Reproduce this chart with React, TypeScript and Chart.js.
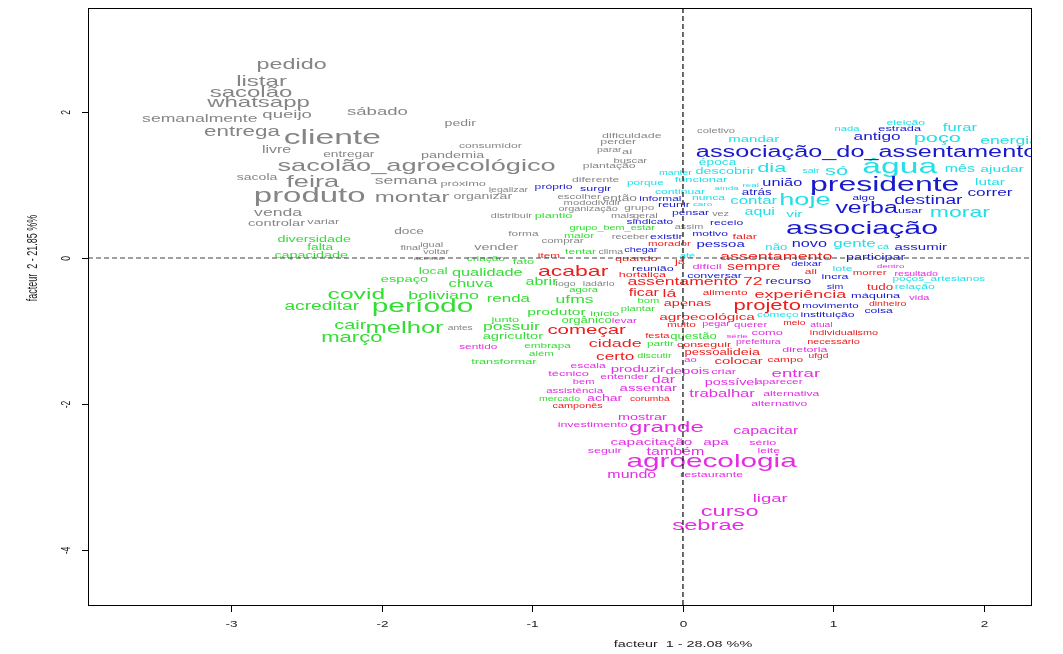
import React, { useEffect, useRef } from "react";
import { Chart, registerables } from "chart.js";

Chart.register(...registerables);

// [term, facteur 1, facteur 2, chi2]
type Term = [string, number, number, number];

const grayTerms: Term[] = [
  ["pedido", -2.6, 2.64, 53], ["listar", -2.8, 2.42, 55], ["sacolão", -2.87, 2.26, 55],
  ["whatsapp", -2.82, 2.12, 55], ["semanalmente", -3.21, 1.9, 35], ["queijo", -2.63, 1.96, 38],
  ["sábado", -2.03, 2.0, 38], ["entrega", -2.93, 1.73, 50], ["cliente", -2.33, 1.64, 85],
  ["livre", -2.7, 1.47, 30], ["entregar", -2.22, 1.42, 23], ["sacolão_agroecológico", -1.77, 1.26, 65],
  ["sacola", -2.83, 1.1, 24], ["feira", -2.46, 1.04, 65], ["produto", -2.48, 0.84, 83],
  ["venda", -2.69, 0.62, 35], ["controlar", -2.7, 0.48, 26], ["variar", -2.39, 0.49, 20],
  ["pedir", -1.48, 1.84, 24], ["consumidor", -1.28, 1.53, 18], ["pandemia", -1.53, 1.41, 25],
  ["semana", -1.84, 1.05, 35], ["próximo", -1.46, 1.01, 20], ["montar", -1.8, 0.82, 55],
  ["organizar", -1.33, 0.84, 24], ["legalizar", -1.16, 0.93, 13], ["distribuir", -1.14, 0.58, 14],
  ["doce", -1.82, 0.36, 23], ["forma", -1.06, 0.33, 17], ["comprar", -0.8, 0.23, 16],
  ["receber", -0.35, 0.29, 14], ["coletivo", 0.22, 1.74, 15], ["dificuldade", -0.34, 1.68, 19],
  ["perder", -0.43, 1.59, 19], ["parar", -0.49, 1.48, 13], ["aí", -0.37, 1.45, 20],
  ["buscar", -0.35, 1.33, 15], ["plantação", -0.49, 1.26, 18], ["diferente", -0.58, 1.07, 18],
  ["escolher", -0.69, 0.84, 16], ["então", -0.42, 0.82, 23], ["modo", -0.7, 0.75, 15],
  ["dividir", -0.51, 0.75, 15], ["organização", -0.63, 0.67, 14], ["grupo", -0.29, 0.68, 17],
  ["mais", -0.4, 0.58, 15], ["geral", -0.25, 0.58, 15], ["vez", 0.25, 0.6, 14],
  ["assim", 0.04, 0.42, 14], ["clima", -0.48, 0.08, 13], ["vender", -1.24, 0.15, 25],
  ["igual", -1.67, 0.18, 14], ["final", -1.81, 0.14, 14], ["voltar", -1.64, 0.08, 13],
  ["acesso", -1.69, 0.0, 10], ["antes", -1.48, -0.96, 12], ["logo", -0.78, -0.36, 13],
  ["ladário", -0.56, -0.36, 13],
];

const greenTerms: Term[] = [
  ["plantio", -0.86, 0.58, 20], ["grupo_bem_estar", -0.47, 0.41, 14], ["maior", -0.69, 0.3, 18],
  ["tentar", -0.68, 0.08, 18], ["criação", -1.31, -0.01, 17], ["fato", -1.06, -0.05, 20],
  ["questão", 0.07, -1.08, 21], ["partir", -0.15, -1.18, 17], ["possuir", -1.14, -0.95, 35],
  ["orgânico", -0.64, -0.86, 21], ["agricultor", -1.13, -1.08, 26], ["embrapa", -0.9, -1.21, 17],
  ["além", -0.94, -1.32, 16], ["transformar", -1.19, -1.42, 20], ["discutir", -0.19, -1.34, 14],
  ["mercado", -0.82, -1.93, 13], ["diversidade", -2.45, 0.25, 25], ["falta", -2.41, 0.14, 23],
  ["capacidade", -2.47, 0.03, 25], ["local", -1.66, -0.19, 24], ["qualidade", -1.3, -0.21, 31],
  ["espaço", -1.85, -0.29, 26], ["chuva", -1.41, -0.36, 32], ["covid", -2.17, -0.51, 57],
  ["boliviano", -1.59, -0.52, 36], ["renda", -1.16, -0.56, 33], ["acreditar", -2.4, -0.66, 40],
  ["período", -1.73, -0.67, 74], ["cair", -2.21, -0.92, 42], ["melhor", -1.85, -0.96, 60],
  ["março", -2.2, -1.1, 49], ["junto", -1.18, -0.84, 20], ["abrir", -0.94, -0.33, 30],
  ["agora", -0.66, -0.44, 15], ["ufms", -0.72, -0.58, 35], ["bom", -0.23, -0.59, 15],
  ["plantar", -0.3, -0.7, 15], ["produtor", -0.84, -0.74, 29], ["início", -0.52, -0.77, 19],
];

const redTerms: Term[] = [
  ["falar", 0.41, 0.29, 19], ["morador", -0.09, 0.19, 16], ["item", -0.89, 0.03, 17],
  ["quando", -0.31, -0.01, 20], ["já", -0.02, -0.05, 20], ["assentamento", 0.62, 0.01, 36],
  ["morrer", 1.24, -0.21, 16], ["tudo", 1.31, -0.4, 22], ["dinheiro", 1.36, -0.63, 13],
  ["sempre", 0.47, -0.12, 30], ["ali", 0.85, -0.19, 18], ["assentamento 72", 0.08, -0.33, 35],
  ["alimento", 0.28, -0.48, 17], ["experiência", 0.78, -0.51, 36], ["apenas", 0.03, -0.63, 25],
  ["projeto", 0.56, -0.66, 49], ["agroecológica", 0.16, -0.81, 28], ["muito", -0.01, -0.92, 17],
  ["meio", 0.74, -0.9, 12], ["individualismo", 1.07, -1.03, 14], ["necessário", 1.0, -1.15, 14],
  ["conseguir", 0.14, -1.19, 19], ["pessoal", 0.16, -1.3, 21], ["ideia", 0.41, -1.3, 25],
  ["ufgd", 0.9, -1.34, 12], ["colocar", 0.37, -1.42, 27], ["campo", 0.68, -1.4, 17],
  ["começar", -0.64, -0.99, 44], ["festa", -0.17, -1.07, 15], ["cidade", -0.45, -1.18, 36],
  ["certo", -0.45, -1.36, 34], ["corumbá", -0.22, -1.93, 12], ["camponês", -0.7, -2.03, 14],
  ["acabar", -0.73, -0.19, 52], ["hortaliça", -0.27, -0.23, 19], ["ficar", -0.26, -0.48, 30],
  ["lá", -0.09, -0.49, 35],
];

const magentaTerms: Term[] = [
  ["dentro", 1.38, -0.12, 10], ["resultado", 1.55, -0.22, 13], ["vida", 1.57, -0.55, 14],
  ["difícil", 0.16, -0.12, 20], ["pegar", 0.22, -0.9, 14], ["querer", 0.45, -0.92, 16],
  ["atual", 0.92, -0.92, 12], ["como", 0.56, -1.03, 20], ["série", 0.36, -1.07, 11],
  ["prefeitura", 0.5, -1.15, 13], ["diretoria", 0.81, -1.26, 19], ["ao", 0.05, -1.4, 15],
  ["depois", 0.03, -1.55, 27], ["criar", 0.27, -1.56, 20], ["entrar", 0.75, -1.59, 38],
  ["possível", 0.32, -1.7, 25], ["aparecer", 0.64, -1.7, 17], ["trabalhar", 0.26, -1.86, 32],
  ["alternativa", 0.72, -1.86, 18], ["alternativo", 0.64, -2.0, 18], ["levar", -0.39, -0.86, 16],
  ["sentido", -1.36, -1.22, 17], ["escala", -0.63, -1.48, 18], ["técnico", -0.76, -1.58, 20],
  ["produzir", -0.3, -1.52, 27], ["entender", -0.39, -1.63, 18], ["dar", -0.13, -1.67, 30],
  ["bem", -0.66, -1.7, 15], ["assistência", -0.72, -1.82, 16], ["assentar", -0.23, -1.79, 27],
  ["achar", -0.52, -1.92, 24], ["mostrar", -0.27, -2.18, 25], ["investimento", -0.6, -2.29, 19],
  ["grande", -0.11, -2.32, 55], ["capacitar", 0.55, -2.37, 30], ["capacitação", -0.21, -2.52, 28],
  ["apa", 0.22, -2.52, 28], ["sério", 0.53, -2.53, 19], ["seguir", -0.52, -2.64, 19],
  ["também", -0.05, -2.66, 30], ["leite", 0.57, -2.64, 18], ["agroecologia", 0.19, -2.79, 73],
  ["mundo", -0.34, -2.97, 30], ["restaurante", 0.19, -2.97, 19], ["ligar", 0.58, -3.3, 38],
  ["curso", 0.31, -3.48, 54], ["sebrae", 0.17, -3.67, 54],
];

const cyanTerms: Term[] = [
  ["mandar", 0.47, 1.62, 27], ["época", 0.23, 1.3, 23], ["descobrir", 0.28, 1.18, 25],
  ["manter", -0.05, 1.16, 13], ["dia", 0.59, 1.23, 48], ["sair", 0.85, 1.19, 13],
  ["só", 1.02, 1.19, 48], ["porque", -0.25, 1.03, 17], ["funcionar", 0.12, 1.07, 20],
  ["continuar", -0.02, 0.9, 18], ["ainda", 0.29, 0.95, 11], ["real", 0.45, 1.0, 11],
  ["nunca", 0.17, 0.82, 18], ["caro", 0.13, 0.74, 11], ["contar", 0.47, 0.78, 33],
  ["hoje", 0.81, 0.79, 65], ["aqui", 0.51, 0.63, 30], ["vir", 0.74, 0.6, 28],
  ["água", 1.44, 1.25, 85], ["mês", 1.84, 1.21, 30], ["ajudar", 2.12, 1.21, 29],
  ["nada", 1.09, 1.77, 15], ["eleição", 1.48, 1.85, 18], ["furar", 1.84, 1.78, 32],
  ["poço", 1.69, 1.64, 48], ["energia", 2.17, 1.6, 35], ["lutar", 2.04, 1.03, 28],
  ["morar", 1.84, 0.62, 52], ["gente", 1.14, 0.19, 33], ["não", 0.62, 0.14, 21],
  ["até", 0.03, 0.03, 15], ["cá", 1.33, 0.15, 15], ["poços_artesianos", 1.7, -0.29, 17],
  ["relação", 1.54, -0.4, 18], ["lote", 1.06, -0.15, 19], ["começo", 0.63, -0.78, 17],
];

const blueTerms: Term[] = [
  ["próprio", -0.86, 0.97, 18], ["existir", -0.11, 0.29, 19], ["surgir", -0.58, 0.95, 19],
  ["sindicato", -0.22, 0.49, 17], ["informal", -0.15, 0.81, 17], ["reunir", -0.06, 0.73, 19],
  ["pensar", 0.05, 0.62, 18], ["motivo", 0.18, 0.33, 18], ["receio", 0.29, 0.48, 18],
  ["associação_do_assentamento", 1.22, 1.45, 59], ["união", 0.66, 1.03, 31], ["atrás", 0.49, 0.89, 22],
  ["presidente", 1.34, 0.99, 80], ["estrada", 1.44, 1.77, 20], ["antigo", 1.29, 1.66, 34],
  ["correr", 2.04, 0.89, 34], ["algo", 1.2, 0.82, 17], ["destinar", 1.63, 0.78, 40],
  ["verba", 1.22, 0.67, 58], ["usar", 1.51, 0.64, 19], ["associação", 1.19, 0.4, 75],
  ["novo", 0.84, 0.19, 31], ["pessoa", 0.25, 0.18, 27], ["chegar", -0.28, 0.11, 14],
  ["participar", 1.28, 0.01, 25], ["assumir", 1.58, 0.14, 27], ["máquina", 1.28, -0.52, 20],
  ["coisa", 1.3, -0.73, 18], ["deixar", 0.82, -0.08, 15], ["incra", 1.01, -0.26, 19],
  ["conversar", 0.21, -0.25, 19], ["recurso", 0.7, -0.32, 23], ["sim", 1.01, -0.4, 13],
  ["movimento", 0.98, -0.66, 16], ["instituição", 0.96, -0.78, 18], ["reunião", -0.2, -0.15, 19],
];

const classTerms: Term[][] = [grayTerms, greenTerms, redTerms, magentaTerms, cyanTerms, blueTerms];
const classColors = ["#858585", "#33dd33", "#ee1c1c", "#e42ee4", "#22e0e8", "#1818cf"];

const xTicks = [-3, -2, -1, 0, 1, 2];
const yTicks = [-4, -2, 0, 2];
const xTitle = "facteur  1 - 28.08 %%";
const yTitle = "facteur  2 - 21.85 %%";
const xRange = [-3.953, 2.319];
const yRange = [-4.767, 3.425];

const STRETCH = 1.6;
const FONT = '"Liberation Sans", Arial, Helvetica, sans-serif';
const fontFor = (chi2: number) => 4 + chi2 / 5;

function drawStretched(ctx: CanvasRenderingContext2D, text: string, x: number, y: number, rot = 0) {
  ctx.save();
  ctx.translate(x, y);
  ctx.scale(STRETCH, 1);
  if (rot) ctx.rotate(rot);
  ctx.fillText(text, 0, 0);
  ctx.restore();
}

const wordPlugin = {
  id: "acWords",
  afterDatasetsDraw(chart: any) {
    const { ctx, chartArea: a, scales } = chart;
    const sx = scales.x;
    const sy = scales.y;
    ctx.save();
    ctx.beginPath();
    ctx.rect(a.left, a.top, a.right - a.left, a.bottom - a.top);
    ctx.clip();
    ctx.textAlign = "center";
    ctx.textBaseline = "middle";
    chart.data.datasets.forEach((_ds: any, di: number) => {
      const meta = chart.getDatasetMeta(di);
      const terms = classTerms[di];
      ctx.fillStyle = classColors[di];
      meta.data.forEach((el: any, i: number) => {
        const t = terms[i];
        ctx.font = `${fontFor(t[3]).toFixed(1)}px ${FONT}`;
        drawStretched(ctx, t[0], el.x, el.y);
      });
    });
    const x0 = sx.getPixelForValue(0);
    const y0 = sy.getPixelForValue(0);
    ctx.setLineDash([5, 3]);
    ctx.lineWidth = 1.3;
    ctx.strokeStyle = "#1a1a1a";
    ctx.beginPath();
    ctx.moveTo(x0, a.top);
    ctx.lineTo(x0, a.bottom);
    ctx.stroke();
    ctx.strokeStyle = "#444";
    ctx.lineWidth = 1;
    ctx.beginPath();
    ctx.moveTo(a.left, y0);
    ctx.lineTo(a.right, y0);
    ctx.stroke();
    ctx.restore();

    // box, ticks, labels
    ctx.save();
    ctx.strokeStyle = "#000";
    ctx.lineWidth = 1;
    ctx.strokeRect(a.left + 0.5, a.top + 0.5, a.right - a.left - 1, a.bottom - a.top - 1);
    ctx.fillStyle = "#222";
    ctx.font = `8.5px ${FONT}`;
    ctx.textAlign = "center";
    ctx.textBaseline = "middle";
    xTicks.forEach((v) => {
      const px = Math.round(sx.getPixelForValue(v)) + 0.5;
      ctx.beginPath();
      ctx.moveTo(px, a.bottom);
      ctx.lineTo(px, a.bottom + 6);
      ctx.stroke();
      drawStretched(ctx, String(v), px, a.bottom + 19);
    });
    yTicks.forEach((v) => {
      const py = Math.round(sy.getPixelForValue(v)) + 0.5;
      ctx.beginPath();
      ctx.moveTo(a.left - 6, py);
      ctx.lineTo(a.left, py);
      ctx.stroke();
      drawStretched(ctx, String(v), a.left - 22, py, -Math.PI / 2);
    });
    ctx.font = `9px ${FONT}`;
    drawStretched(ctx, xTitle, x0, a.bottom + 39);
    drawStretched(ctx, yTitle, a.left - 55, y0, -Math.PI / 2);
    ctx.restore();
  },
};

export default function App() {
  const ref = useRef<HTMLCanvasElement | null>(null);
  useEffect(() => {
    if (!ref.current) return;
    const chart = new Chart(ref.current, {
      type: "scatter",
      data: {
        datasets: classTerms.map((terms, i) => ({
          label: `classe ${i + 1}`,
          data: terms.map((t) => ({ x: t[1], y: t[2] })),
          pointRadius: 0,
          pointHoverRadius: 0,
          backgroundColor: classColors[i],
        })),
      },
      options: {
        animation: false,
        responsive: true,
        maintainAspectRatio: false,
        devicePixelRatio: 1,
        events: [],
        layout: { padding: { left: 88, top: 8, right: 31, bottom: 48 } },
        scales: {
          x: { type: "linear", display: false, min: xRange[0], max: xRange[1] },
          y: { type: "linear", display: false, min: yRange[0], max: yRange[1] },
        },
        plugins: { legend: { display: false }, tooltip: { enabled: false } },
      },
      plugins: [wordPlugin],
    });
    return () => chart.destroy();
  }, []);
  return (
    <div style={{ position: "absolute", left: 0, top: 0, width: 1063, height: 654, background: "#fff" }}>
      <canvas ref={ref} />
    </div>
  );
}
